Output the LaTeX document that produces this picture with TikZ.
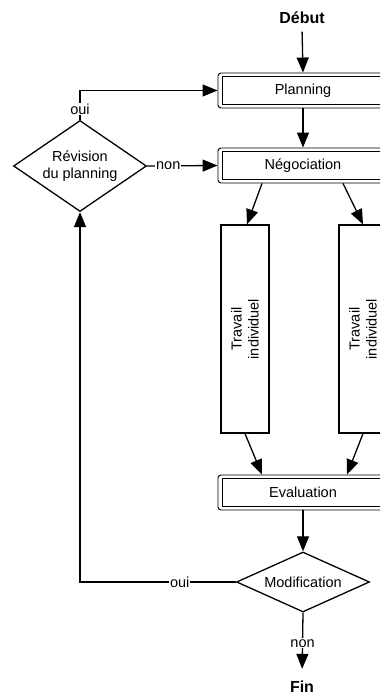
\documentclass[tikz,border=0pt]{standalone}
\usepackage{fontspec}
\setmainfont{Liberation Sans}
\usetikzlibrary{arrows.meta,shapes.geometric,calc}
\newcommand{\fs}{\fontsize{14.5}{17}\selectfont}
\newcommand{\fb}{\fontsize{16}{18}\selectfont\bfseries}
\begin{document}
\begin{tikzpicture}[x=1pt,y=1pt,
  conn/.style={line width=1.3pt},
  arr/.style={line width=1.3pt,-{Triangle[length=15pt,width=12pt]}},
  procbox/.style={draw,line width=0.9pt,rounded corners=3pt,minimum width=170pt,minimum height=35pt,inner sep=0pt,font=\fs},
  workbox/.style={draw,line width=1.3pt,minimum width=48pt,minimum height=208pt,inner sep=0pt},
  worktext/.style={rotate=90,align=center,font=\fs,inner sep=0pt},
  decide/.style={diamond,draw,line width=1.3pt,inner sep=0pt,align=center,font=\fs},
  lbl/.style={fill=white,inner sep=1pt,font=\fs},
  term/.style={font=\fb,anchor=base}]
\useasboundingbox (0,0) rectangle (380,695);
\clip (0,0) rectangle (380,695);
\fill[white] (0,0) rectangle (380,695);

\node[term] (debut) at (302,671) {Début};
\node[procbox] (plan) at (303,604.5) {Planning};
\node[procbox] (nego) at (303,529.5) {Négociation};
\node[workbox] (t1) at (245,366) {};
\node[worktext] (t1txt) at (t1.center) {Travail\\individuel};
\node[workbox] (t2) at (363,366) {};
\node[worktext] (t2txt) at (t2.center) {Travail\\individuel};
\node[procbox] (eval) at (303,202.5) {Evaluation};
\node[decide,minimum width=133pt,minimum height=60pt,aspect=2.2] (mod) at (303,113) {Modification};
\node[decide,minimum width=133pt,minimum height=91pt,aspect=1.46] (rev) at (80,529) {Révision\\du planning};
\node[term] (fin) at (302,2) {Fin};

% inner rectangles of the process boxes
\foreach \b in {plan,nego,eval}{
  \draw[line width=1.1pt] ($(\b.south west)+(5,4)$) rectangle ($(\b.north east)+(-5,-4)$);
}

\draw[arr,shorten <=4pt] (debut.south) -- (plan.north);
\draw[arr] (plan.south) -- (nego.north);
\draw[arr] ($(nego.south)+(-41,0)$) -- ($(t1.north)+(2,0)$);
\draw[arr] ($(nego.south)+(40,0)$) -- (t2.north);
\draw[arr] (t1.south) -- ($(eval.north)+(-41,0)$);
\draw[arr] (t2.south) -- ($(eval.north)+(44,0)$);
\draw[arr] (eval.south) -- (mod.north);
\draw[arr] (mod.west) -- node[lbl,pos=0.36]{oui} (mod.west -| rev.south) -- (rev.south);
\draw[arr] (rev.north) -- node[lbl,pos=0.37]{oui} (rev.north |- plan.west) -- (plan.west);
\draw[arr] (rev.east) -- node[lbl,pos=0.3]{non} (nego.west);
\draw[arr,shorten >=9pt] (mod.south) -- node[lbl,pos=0.47]{non} (fin.north);
\end{tikzpicture}
\end{document}
